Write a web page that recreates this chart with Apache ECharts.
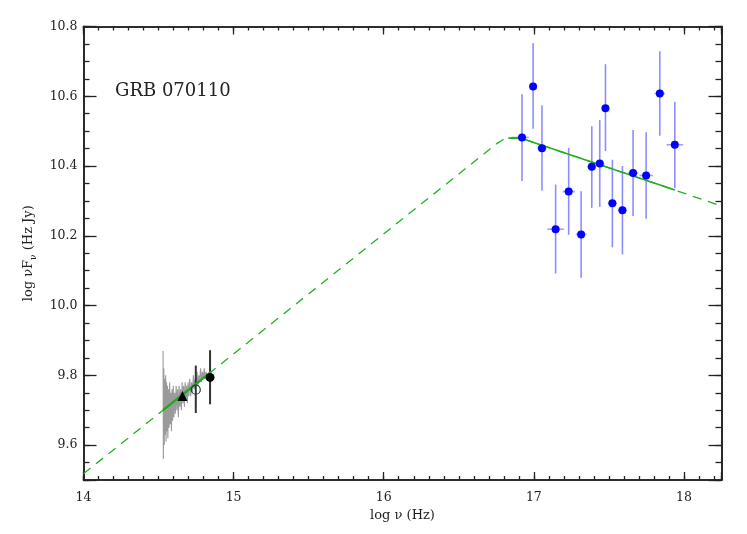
<!DOCTYPE html>
<html><head><meta charset="utf-8">
<script src="https://cdn.jsdelivr.net/npm/echarts@6/dist/echarts.min.js"></script>
<style>html,body{margin:0;padding:0;background:#fff}#c{width:747px;height:534px}</style>
</head><body><div id="c"></div>
<script>
// ---------------- data ----------------
const xrayLogNu      = [16.921, 16.995, 17.054, 17.145, 17.232, 17.315, 17.386, 17.439, 17.477, 17.523, 17.590, 17.661, 17.748, 17.839, 17.939];
const xrayLogNuFnu   = [10.482, 10.628, 10.451, 10.219, 10.327, 10.204, 10.398, 10.407, 10.566, 10.293, 10.273, 10.380, 10.373, 10.608, 10.461];
const xrayErrLow     = [10.357, 10.507, 10.329, 10.092, 10.203, 10.080, 10.280, 10.283, 10.443, 10.167, 10.147, 10.257, 10.249, 10.487, 10.336];
const xrayErrHigh    = [10.606, 10.752, 10.574, 10.347, 10.452, 10.328, 10.514, 10.532, 10.692, 10.418, 10.400, 10.503, 10.497, 10.729, 10.584];
const xrayNuHalfWidth= [0.045, 0.020, 0.030, 0.055, 0.040, 0.035, 0.030, 0.030, 0.025, 0.030, 0.030, 0.035, 0.045, 0.035, 0.055];

const specLogNu = [14.530,14.532,14.535,14.538,14.541,14.544,14.547,14.550,14.553,14.556,14.559,14.562,14.566,14.570,14.574,14.578,14.582,14.586,14.590,14.594,14.598,14.602,14.607,14.612,14.617,14.622,14.627,14.632,14.637,14.642,14.647,14.652,14.657,14.662,14.667,14.672,14.677,14.682,14.687,14.692,14.697,14.702,14.708,14.714,14.720,14.726,14.732,14.738,14.744,14.750,14.756,14.762,14.768,14.774,14.780,14.786,14.792,14.798,14.804,14.810,14.816,14.822];
const specLogNuFnu = [9.87,9.56,9.82,9.60,9.79,9.63,9.80,9.61,9.78,9.64,9.77,9.62,9.76,9.65,9.78,9.66,9.75,9.64,9.76,9.67,9.77,9.68,9.75,9.69,9.77,9.70,9.76,9.68,9.77,9.71,9.76,9.70,9.78,9.72,9.77,9.71,9.78,9.73,9.77,9.72,9.78,9.74,9.79,9.74,9.78,9.75,9.80,9.76,9.79,9.77,9.81,9.77,9.80,9.78,9.82,9.78,9.81,9.79,9.82,9.79,9.81,9.80];

const triLogNu = [14.659], triLogNuFnu = [9.741];
const openLogNu = [14.748], openLogNuFnu = [9.759], openErrLow = [9.692], openErrHigh = [9.828];
const fillLogNu = [14.843], fillLogNuFnu = [9.794], fillErrLow = [9.717], fillErrHigh = [9.872];

const modelLogNu    = [14.0, 14.53, 14.85, 16.755, 16.80, 16.86, 16.92, 17.94, 18.25];
const modelLogNuFnu = [9.518, 9.70, 9.81, 10.465, 10.477, 10.482, 10.479, 10.331, 10.285];
const optFitLogNu    = [14.53, 14.85];
const optFitLogNuFnu = [9.70, 9.81];
const xFitLogNu      = [16.83, 16.92, 17.94];
const xFitLogNuFnu   = [10.480, 10.479, 10.331];

const xTickLabels = ['14','15','16','17','18'];
const yTickLabels = ['9.6','9.8','10.0','10.2','10.4','10.6','10.8'];
const titleText = 'GRB 070110';

// ---------------- chart ----------------
const zip = (a, b) => a.map((v, i) => [v, b[i]]);
const FONT = 'DejaVu Serif';
const INK = '#222';

function errBars(rows, vColor, vWidth, hColor, hWidth) {
  return {
    type: 'custom', silent: true, z: 3,
    renderItem: (params, api) => {
      const x = api.value(0), y = api.value(1), lo = api.value(2), hi = api.value(3), xl = api.value(4), xh = api.value(5);
      const a = api.coord([x, lo]), b = api.coord([x, hi]);
      const ch = [{type: 'line', shape: {x1: a[0], y1: a[1], x2: b[0], y2: b[1]}, style: {stroke: vColor, lineWidth: vWidth}}];
      if (xh > xl) {
        const c = api.coord([xl, y]), d = api.coord([xh, y]);
        ch.push({type: 'line', shape: {x1: c[0], y1: c[1], x2: d[0], y2: d[1]}, style: {stroke: hColor, lineWidth: hWidth}});
      }
      return {type: 'group', children: ch};
    },
    encode: {x: 0, y: 1},
    data: rows
  };
}

const xMin = 14, xMax = 18.25, yMin = 9.5, yMax = 10.8;
const lbl = {fontFamily: FONT, fontSize: 12.5, color: INK};

function xAx(pos, major, show) {
  return {
    type: 'value', min: xMin, max: xMax, position: pos,
    minInterval: major ? 1 : 0.1, maxInterval: major ? 1 : 0.1, splitNumber: major ? 4 : 42,
    axisLine: {show: true, onZero: false, lineStyle: {color: INK, width: 1.6}},
    axisTick: {show: true, inside: true, length: major ? 8 : 4, lineStyle: {color: INK, width: 1.3}},
    splitLine: {show: false},
    axisLabel: show ? Object.assign({margin: 11, formatter: v => {
      const i = xTickLabels.indexOf(String(Math.round(v)));
      return Math.abs(v - Math.round(v)) < 1e-6 && i >= 0 ? xTickLabels[i] : '';
    }}, lbl) : {show: false},
    name: show ? 'log ν (Hz)' : '', nameLocation: 'middle', nameGap: 29,
    nameTextStyle: {fontFamily: FONT, fontSize: 13, color: INK}
  };
}
function yAx(pos, major, show) {
  return {
    type: 'value', min: yMin, max: yMax, position: pos,
    minInterval: major ? 0.2 : 0.05, maxInterval: major ? 0.2 : 0.05, splitNumber: major ? 6 : 26,
    axisLine: {show: true, onZero: false, lineStyle: {color: INK, width: 1.6}},
    axisTick: {show: true, inside: true, length: major ? 13 : 6, lineStyle: {color: INK, width: 1.3}},
    splitLine: {show: false},
    axisLabel: show ? Object.assign({margin: 6, formatter: v => {
      const s = v.toFixed(1);
      return Math.abs(v * 5 - Math.round(v * 5)) < 1e-6 && yTickLabels.indexOf(s) >= 0 ? s : '';
    }}, lbl) : {show: false},
    name: show ? '{a|log νF}{s|ν}{a| (Hz Jy)}' : '', nameLocation: 'middle', nameGap: 45, nameRotate: 90,
    nameTextStyle: {fontFamily: FONT, fontSize: 13, color: INK,
      rich: {a: {fontFamily: FONT, fontSize: 13, color: INK, lineHeight: 20},
             s: {fontFamily: FONT, fontSize: 9, color: INK, lineHeight: 8, verticalAlign: 'bottom'}}}
  };
}

const chart = echarts.init(document.getElementById('c'), null, {renderer: 'canvas'});
chart.setOption({
  animation: false,
  backgroundColor: '#fff',
  grid: {left: 83.5, right: 25.5, top: 26.5, bottom: 54},
  xAxis: [xAx('bottom', true, true), xAx('bottom', false, false), xAx('top', true, false), xAx('top', false, false)],
  yAxis: [yAx('left', true, true), yAx('left', false, false), yAx('right', true, false), yAx('right', false, false)],
  graphic: [{type: 'text', left: 115, top: 82, style: {text: titleText, fontFamily: FONT, fontSize: 18, fill: INK}}],
  series: [
    {type: 'line', data: zip(specLogNu, specLogNuFnu), symbol: 'none', lineStyle: {color: '#9a9a9a', width: 1.1}, z: 2, silent: true},
    {type: 'line', data: zip(modelLogNu, modelLogNuFnu), symbol: 'none', lineStyle: {color: '#22b022', width: 1.3, type: [9, 7]}, z: 3, silent: true},
    {type: 'line', data: zip(optFitLogNu, optFitLogNuFnu), symbol: 'none', lineStyle: {color: '#1fa81f', width: 2.2}, z: 4, silent: true},
    {type: 'line', data: zip(xFitLogNu, xFitLogNuFnu), symbol: 'none', lineStyle: {color: '#22b022', width: 1.6}, z: 4, silent: true},
    errBars(xrayLogNu.map((v, i) => [v, xrayLogNuFnu[i], xrayErrLow[i], xrayErrHigh[i], v - xrayNuHalfWidth[i], v + xrayNuHalfWidth[i]]),
            'rgba(80,80,255,0.65)', 1.6, 'rgba(120,120,255,0.7)', 1.6),
    errBars([[openLogNu[0], openLogNuFnu[0], openErrLow[0], openErrHigh[0], 0, 0],
             [fillLogNu[0], fillLogNuFnu[0], fillErrLow[0], fillErrHigh[0], 0, 0]], '#333', 2, '#333', 2),
    {type: 'scatter', data: zip(xrayLogNu, xrayLogNuFnu), symbol: 'circle', symbolSize: 8, itemStyle: {color: '#0000ff', opacity: 1}, z: 6, silent: true},
    {type: 'scatter', data: zip(triLogNu, triLogNuFnu), symbol: 'triangle', symbolSize: 10, itemStyle: {color: '#000', opacity: 1}, z: 6, silent: true},
    {type: 'scatter', data: zip(openLogNu, openLogNuFnu), symbol: 'circle', symbolSize: 9, itemStyle: {color: 'rgba(255,255,255,0)', borderColor: '#333', borderWidth: 1.2, opacity: 1}, z: 6, silent: true},
    {type: 'scatter', data: zip(fillLogNu, fillLogNuFnu), symbol: 'circle', symbolSize: 9, itemStyle: {color: '#000', opacity: 1}, z: 6, silent: true}
  ]
});
</script>
</body></html>
